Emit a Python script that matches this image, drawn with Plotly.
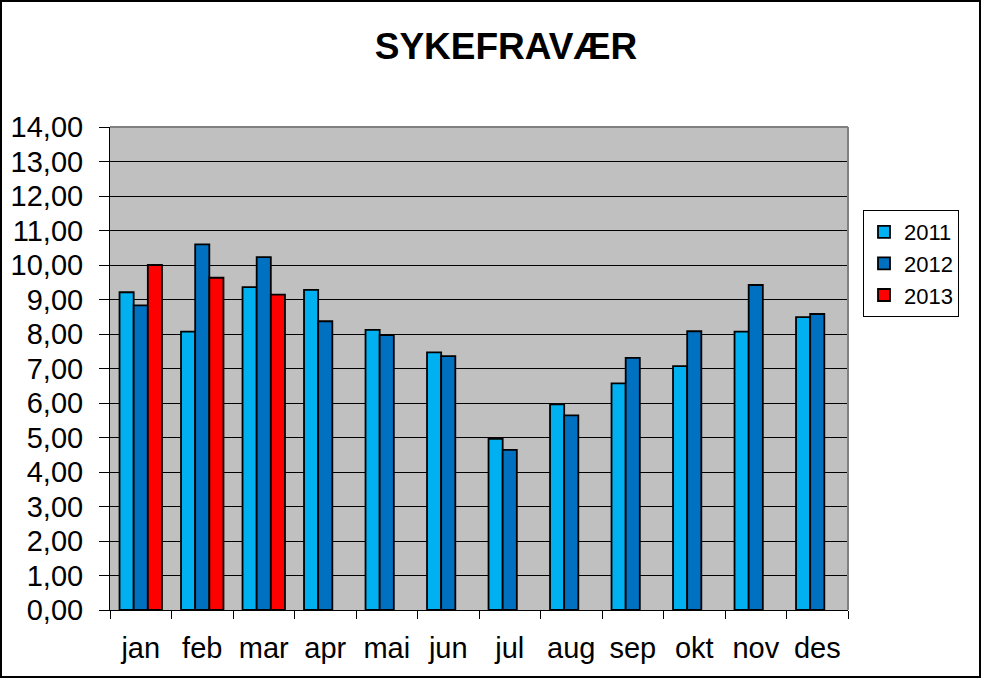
import plotly.graph_objects as go

months = ["jan", "feb", "mar", "apr", "mai", "jun", "jul", "aug", "sep", "okt", "nov", "des"]
y2011 = [9.21, 8.07, 9.36, 9.28, 8.12, 7.47, 4.96, 5.96, 6.57, 7.07, 8.07, 8.49]
y2012 = [8.83, 10.60, 10.23, 8.37, 7.97, 7.36, 4.64, 5.64, 7.31, 8.08, 9.42, 8.58]
y2013 = [10.00, 9.63, 9.14, None, None, None, None, None, None, None, None, None]

series = [("2011", y2011, "#00B0F0"), ("2012", y2012, "#0070C0"), ("2013", y2013, "#FF0000")]

FONT = "Liberation Sans, Arial, sans-serif"

fig = go.Figure()
for name, vals, col in series:
    fig.add_trace(go.Bar(
        x=months, y=vals, name=name,
        marker=dict(color=col, line=dict(color="black", width=1.8)),
    ))

# plot area sits at x 110..848, y 127..610 in a 981x678 canvas
L, R, T, B = 110, 848, 127, 610
W, H = R - L, B - T


def px(x):
    return (x - L) / W


def py(y):
    return (B - y) / H


fig.update_layout(
    width=981, height=678,
    margin=dict(l=L, r=981 - R, t=T, b=678 - B),
    paper_bgcolor="white",
    plot_bgcolor="#C0C0C0",
    barmode="group",
    bargap=0.31,
    bargroupgap=0,
    separators=",.",
    font=dict(family=FONT, color="black"),
    title=dict(text="<b>SYKEFRAVÆR</b>", x=506 / 981, xref="container", xanchor="center",
               y=1 - 46 / 678, yref="container", yanchor="middle",
               font=dict(size=37, family=FONT, color="black")),
    legend=dict(x=px(863), y=py(210), xanchor="left", yanchor="top",
                bgcolor="white", bordercolor="black", borderwidth=1,
                font=dict(size=22, family=FONT), tracegroupgap=0,
                itemwidth=30),
    showlegend=True,
    shapes=[
        # outer frame
        dict(type="rect", xref="paper", yref="paper",
             x0=px(1), x1=px(980), y0=py(677), y1=py(1),
             line=dict(color="black", width=2)),
        # grey top / right plot border
        dict(type="line", xref="paper", yref="paper", x0=0, x1=1, y0=1, y1=1,
             line=dict(color="#808080", width=2)),
        dict(type="line", xref="paper", yref="paper", x0=1, x1=1, y0=0, y1=1,
             line=dict(color="#808080", width=2)),
    ],
)

fig.update_yaxes(
    range=[0, 14], dtick=1, tickformat=".2f",
    showgrid=True, gridcolor="black", gridwidth=1,
    showline=True, linecolor="black", linewidth=1,
    ticks="outside", ticklen=10, tickcolor="black",
    tickfont=dict(size=29, family=FONT, color="black"),
    ticklabelstandoff=10, zeroline=False,
)
fig.update_xaxes(
    tickson="boundaries",
    showline=True, linecolor="black", linewidth=1,
    ticks="outside", ticklen=8, tickcolor="black",
    tickfont=dict(size=29, family=FONT, color="black"),
    ticklabelstandoff=12, showgrid=False,
)

fig.write_html("out.html", config={"displayModeBar": False},
               post_script="document.body.style.margin='0';")
